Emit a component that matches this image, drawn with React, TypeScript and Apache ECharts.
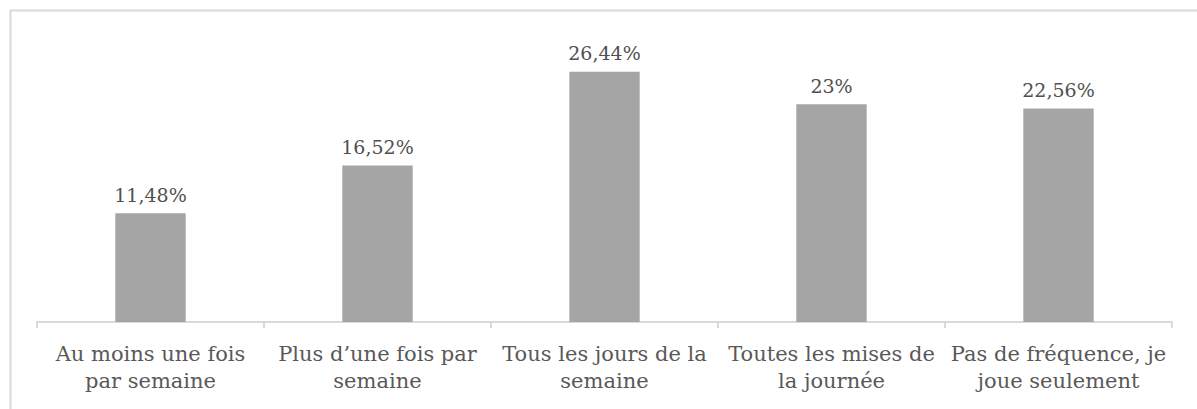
import React, { useEffect, useRef } from "react";
import * as echarts from "echarts";

const categories = [
  "Au moins une fois\npar semaine",
  "Plus d’une fois par\nsemaine",
  "Tous les jours de la\nsemaine",
  "Toutes les mises de\nla journée",
  "Pas de fréquence, je\njoue seulement",
];
const values = [11.48, 16.52, 26.44, 23, 22.56];

const SERIF = "DejaVu Serif";

export default function App() {
  const ref = useRef<HTMLDivElement>(null);
  useEffect(() => {
    if (!ref.current) return;
    const chart = echarts.init(ref.current, null, { renderer: "svg" });
    chart.setOption({
      animation: false,
      backgroundColor: "#ffffff",
      textStyle: { fontFamily: SERIF },
      graphic: [
        {
          type: "rect",
          left: 8,
          top: 8,
          shape: { x: 0, y: 0, width: 1400, height: 800 },
          style: { fill: "none", stroke: "#d9d9d9", lineWidth: 2 },
          silent: true,
          z: -1,
        },
      ],
      grid: { left: 37, right: 25, top: 38, bottom: 87 },
      xAxis: {
        type: "category",
        data: categories,
        axisLine: { lineStyle: { color: "#d9d9d9", width: 2 } },
        axisTick: { show: true, length: 6, lineStyle: { color: "#d9d9d9", width: 2 } },
        axisLabel: {
          interval: 0,
          margin: 18,
          color: "#595959",
          fontFamily: SERIF,
          fontSize: 21,
          lineHeight: 27,
        },
      },
      yAxis: {
        type: "value",
        min: 0,
        max: 30,
        show: false,
        splitLine: { show: false },
      },
      series: [
        {
          type: "bar",
          data: values,
          barWidth: "31%",
          itemStyle: { color: "#a5a5a5" },
          label: {
            show: true,
            position: "top",
            distance: 9,
            color: "#505050",
            fontFamily: SERIF,
            fontSize: 19,
            formatter: (p: any) => String(p.value).replace(".", ",") + "%",
          },
        },
      ],
    });
    return () => chart.dispose();
  }, []);
  return (
    <div
      ref={ref}
      style={{ position: "absolute", left: 0, top: 0, width: 1197, height: 409 }}
    />
  );
}
